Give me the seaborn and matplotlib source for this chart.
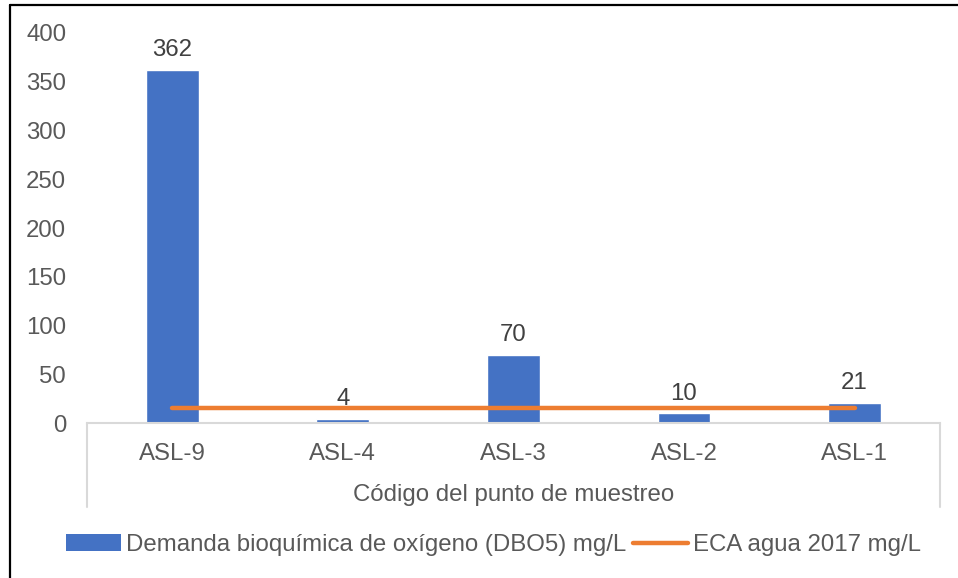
import numpy as np
import pandas as pd
import matplotlib.pyplot as plt
import seaborn as sns
from matplotlib.lines import Line2D
from matplotlib.patches import Patch

# data
puntos = ['ASL-9', 'ASL-4', 'ASL-3', 'ASL-2', 'ASL-1']
dbo5 = [362, 4, 70, 10, 21]
eca = [15, 15, 15, 15, 15]

bar_name = 'Demanda bioquímica de oxígeno (DBO5) mg/L'
line_name = 'ECA agua 2017 mg/L'
x_title = 'Código del punto de muestreo'

df = pd.DataFrame({'punto': puntos, 'dbo5': dbo5, 'eca': eca})

sns.set_style('white')
plt.rcParams['font.family'] = ['Liberation Sans', 'DejaVu Sans']

blue = '#4472C4'
orange = '#ED7D31'
txt = '#595959'
grid_grey = '#D9D9D9'
fs = 17.3

fig = plt.figure(figsize=(9.58, 5.78), dpi=100)
ax = fig.add_axes([0.0908, 0.268, 0.8902, 0.675])

sns.barplot(data=df, x='punto', y='dbo5', color=blue, width=0.31,
            saturation=1, ax=ax)
ax.plot(np.arange(len(puntos)), df['eca'], color=orange, lw=3.2,
        solid_capstyle='round', zorder=3)

# value labels above bars
for i, v in enumerate(dbo5):
    ax.text(i, v + 9, str(v), ha='center', va='bottom', fontsize=fs,
            color='#404040')

ax.set_ylim(0, 400)
ax.set_xlim(-0.5, len(puntos) - 0.5)
ax.set_yticks(np.arange(0, 401, 50))
ax.tick_params(axis='both', length=0, labelsize=fs, colors=txt)
ax.tick_params(axis='x', pad=14)
ax.tick_params(axis='y', pad=15)
ax.set_xlabel(x_title, fontsize=fs, color=txt, labelpad=14)
ax.set_ylabel('')

for s in ['top', 'right', 'left']:
    ax.spines[s].set_visible(False)
ax.spines['bottom'].set_color(grid_grey)
ax.spines['bottom'].set_linewidth(1.5)

# outer box lines of the category axis
for xa in [0, 1]:
    ax.add_line(Line2D([xa, xa], [0, -0.215], transform=ax.transAxes,
                       color=grid_grey, lw=1.5, clip_on=False))

# legend
handles = [Patch(facecolor=blue, edgecolor='none'),
           Line2D([0], [0], color=orange, lw=3.2, solid_capstyle='round')]
fig.legend(handles, [bar_name, line_name], loc='center',
           bbox_to_anchor=(0.515, 0.057), ncol=2, frameon=False,
           fontsize=fs, labelcolor=txt, handlelength=2.3,
           handletextpad=0.2, columnspacing=0.3)

# black frame on top and left edge
fig.add_artist(Line2D([10 / 958, 10 / 958], [0, 1 - 5 / 578],
                      transform=fig.transFigure, color='black', lw=1.6))
fig.add_artist(Line2D([10 / 958, 1], [1 - 5 / 578, 1 - 5 / 578],
                      transform=fig.transFigure, color='black', lw=1.6))

fig.savefig('out.png', dpi=100)
